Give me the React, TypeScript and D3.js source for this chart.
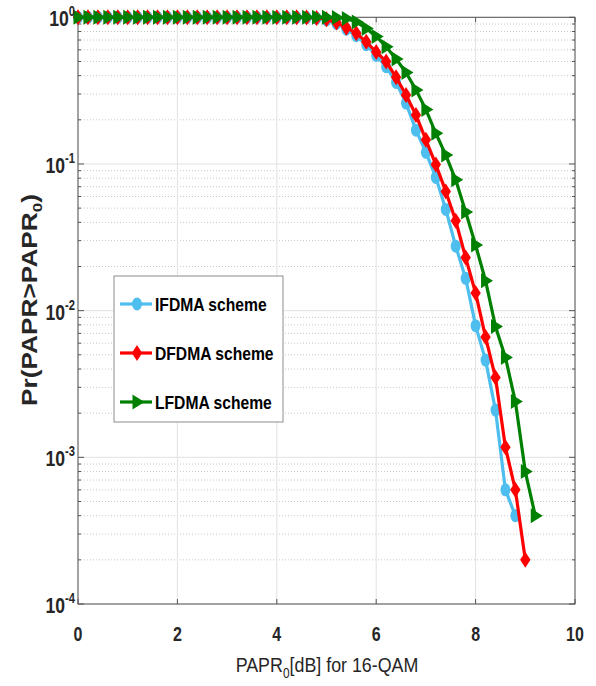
import React from 'react'
import * as d3 from 'd3'

// PAPR grid in dB
const papr = [
  0, 0.2, 0.4, 0.6, 0.8, 1, 1.2, 1.4, 1.6, 1.8, 2, 2.2, 2.4, 2.6, 2.8, 3, 3.2, 3.4, 3.6, 3.8,
  4, 4.2, 4.4, 4.6, 4.8, 5, 5.2, 5.4, 5.6, 5.8, 6, 6.2, 6.4, 6.6, 6.8, 7, 7.2, 7.4, 7.6, 7.8,
  8, 8.2, 8.4, 8.6, 8.8, 9, 9.2,
]

const ifdma = [
  1, 1, 1, 1, 1, 1, 1, 1, 1, 1, 1, 1, 1, 1, 1, 1, 1, 1, 1, 1,
  1, 1, 0.999, 0.995, 0.985, 0.96, 0.91, 0.83, 0.75, 0.65, 0.55, 0.46, 0.36, 0.26, 0.17, 0.12, 0.081, 0.049, 0.0275, 0.0166,
  0.0079, 0.0046, 0.0021, 0.0006, 0.0004,
]

const dfdma = [
  1, 1, 1, 1, 1, 1, 1, 1, 1, 1, 1, 1, 1, 1, 1, 1, 1, 1, 1, 1,
  1, 1, 0.999, 0.996, 0.99, 0.97, 0.92, 0.85, 0.78, 0.68, 0.58, 0.5, 0.39, 0.295, 0.216, 0.146, 0.099, 0.065, 0.041, 0.023,
  0.0132, 0.0066, 0.0035, 0.00117, 0.0006, 0.0002,
]

const lfdma = [
  1, 1, 1, 1, 1, 1, 1, 1, 1, 1, 1, 1, 1, 1, 1, 1, 1, 1, 1, 1,
  1, 1, 1, 1, 1, 1, 0.995, 0.98, 0.93, 0.84, 0.74, 0.63, 0.52, 0.42, 0.32, 0.235, 0.162, 0.115, 0.078, 0.047,
  0.028, 0.016, 0.0078, 0.0048, 0.0024, 0.0008, 0.0004,
]

const seriesNames = ['IFDMA scheme', 'DFDMA scheme', 'LFDMA scheme']
const seriesColors = ['#4DBEEE', '#FF0000', '#008000']
const seriesMarkers = ['circle', 'diamond', 'triangle']
const xTicks = [0, 2, 4, 6, 8, 10]
const yDecades = [0, -1, -2, -3, -4]

const W = 596
const H = 686
const left = 78
const right = 575
const top = 17.3
const bottom = 604

function Marker({ kind, x, y, color }) {
  if (kind === 'circle') return <ellipse cx={x} cy={y} rx={5} ry={6.5} fill={color} />
  if (kind === 'diamond')
    return <path d={`M${x},${y - 8}L${x + 5.2},${y}L${x},${y + 8}L${x - 5.2},${y}Z`} fill={color} />
  return <path d={`M${x - 4.5},${y - 7.5}L${x + 7.5},${y}L${x - 4.5},${y + 7.5}Z`} fill={color} />
}

export default function App() {
  const x = d3.scaleLinear().domain([0, 10]).range([left, right])
  const y = d3.scaleLog().domain([1e-4, 1]).range([bottom, top])

  const all = [ifdma, dfdma, lfdma]
  const line = d3
    .line<[number, number]>()
    .x((d) => x(d[0]))
    .y((d) => y(d[1]))

  const minors = []
  for (let k = -4; k < 0; k++) for (let m = 2; m <= 9; m++) minors.push(m * Math.pow(10, k))

  const legendY = [304, 353, 402]

  return (
    <svg width={W} height={H} style={{ position: 'absolute', left: 0, top: 0, background: '#fff' }}
      fontFamily="'Liberation Sans', Arial, sans-serif">
      {/* grid */}
      {minors.map((v, i) => (
        <line key={'mg' + i} x1={left} x2={right} y1={y(v)} y2={y(v)} stroke="#c8c8c8" strokeDasharray="1,2" />
      ))}
      {yDecades.map((d) => (
        <line key={'yg' + d} x1={left} x2={right} y1={y(Math.pow(10, d))} y2={y(Math.pow(10, d))} stroke="#e2e2e2" />
      ))}
      {xTicks.map((t) => (
        <line key={'xg' + t} x1={x(t)} x2={x(t)} y1={top} y2={bottom} stroke="#e2e2e2" />
      ))}

      {/* ticks */}
      {minors.map((v, i) => (
        <g key={'mt' + i} stroke="#555">
          <line x1={left} x2={left + 3} y1={y(v)} y2={y(v)} />
          <line x1={right} x2={right - 3} y1={y(v)} y2={y(v)} />
        </g>
      ))}
      {yDecades.map((d) => (
        <g key={'yt' + d} stroke="#555">
          <line x1={left} x2={left + 6} y1={y(Math.pow(10, d))} y2={y(Math.pow(10, d))} />
          <line x1={right} x2={right - 6} y1={y(Math.pow(10, d))} y2={y(Math.pow(10, d))} />
        </g>
      ))}
      {xTicks.map((t) => (
        <g key={'xt' + t} stroke="#555">
          <line x1={x(t)} x2={x(t)} y1={bottom} y2={bottom - 5} />
          <line x1={x(t)} x2={x(t)} y1={top} y2={top + 5} />
        </g>
      ))}
      <rect x={left} y={top} width={right - left} height={bottom - top} fill="none" stroke="#555" strokeWidth={1} />

      {/* series */}
      {all.map((vals, si) => (
        <g key={'s' + si}>
          <path
            d={line(vals.map((v, i) => [papr[i], v]))}
            fill="none"
            stroke={seriesColors[si]}
            strokeWidth={3.2}
            strokeLinejoin="round"
          />
          {vals.map((v, i) => (
            <Marker key={i} kind={seriesMarkers[si]} x={x(papr[i])} y={y(v)} color={seriesColors[si]} />
          ))}
        </g>
      ))}

      {/* tick labels */}
      {xTicks.map((t) => (
        <text key={'xl' + t} transform={`translate(${x(t)},${641}) scale(0.8,1)`} textAnchor="middle"
          fontSize={20} fontWeight="bold" fill="#262626">
          {t}
        </text>
      ))}
      {yDecades.map((d) => (
        <text key={'yl' + d} transform={`translate(75,${y(Math.pow(10, d)) + 9}) scale(0.8,1)`}
          textAnchor="end" fontSize={22} fontWeight="bold" fill="#262626">
          10
          <tspan fontSize={14} dy={-10}>{d}</tspan>
        </text>
      ))}

      {/* axis titles */}
      <text transform={`translate(${327},${672}) scale(0.85,1)`} textAnchor="middle" fontSize={21} fill="#262626">
        PAPR<tspan fontSize={14} dy={6}>0</tspan>
        <tspan dy={-6}>[dB] for 16-QAM</tspan>
      </text>
      <text transform={`translate(${37},${300}) rotate(-90) scale(1.05,0.85)`} textAnchor="middle" fontSize={25}
        fontWeight="bold" fill="#262626">
        Pr(PAPR&gt;PAPR<tspan fontSize={16} dy={6}>0</tspan>
        <tspan dy={-6}>)</tspan>
      </text>

      {/* legend */}
      <rect x={114} y={276} width={169} height={146} fill="#fff" stroke="#8c8c8c" />
      {seriesNames.map((name, i) => (
        <g key={'lg' + i}>
          <line x1={120} x2={152} y1={legendY[i]} y2={legendY[i]} stroke={seriesColors[i]} strokeWidth={3.2} />
          <Marker kind={seriesMarkers[i]} x={137} y={legendY[i]} color={seriesColors[i]} />
          <text transform={`translate(155,${legendY[i] + 7}) scale(0.87,1)`} fontSize={18} fontWeight="bold" fill="#000">
            {name}
          </text>
        </g>
      ))}
    </svg>
  )
}
